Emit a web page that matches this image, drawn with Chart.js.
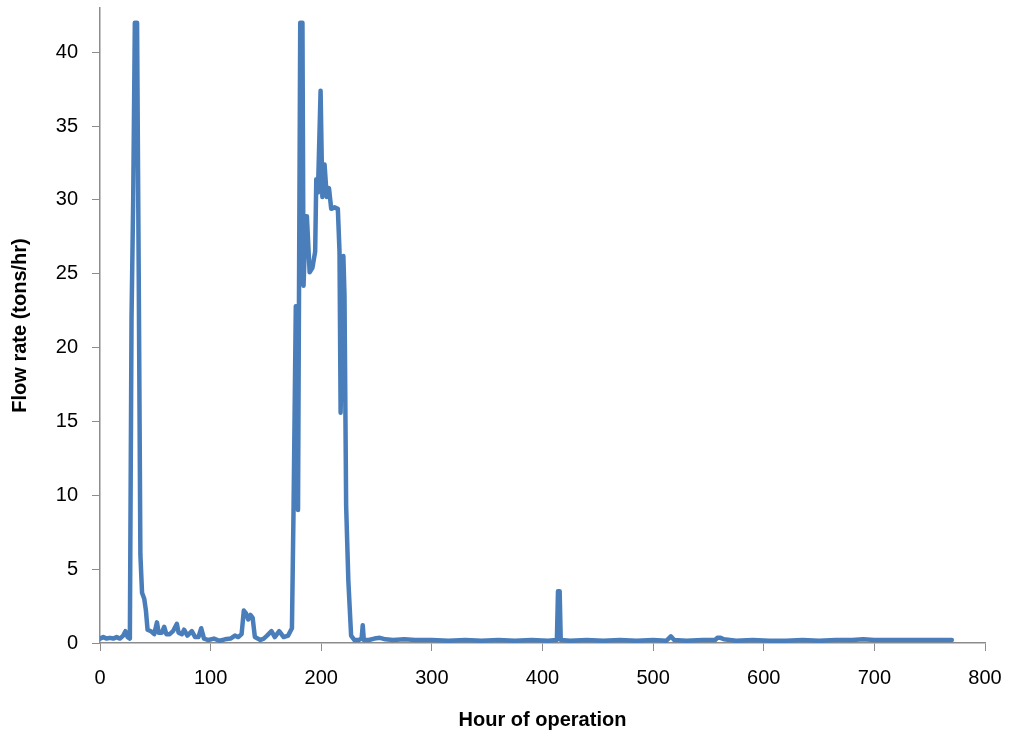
<!DOCTYPE html>
<html>
<head>
<meta charset="utf-8">
<script src="https://cdn.jsdelivr.net/npm/chart.js@4"></script>
<style>
  html, body { margin: 0; padding: 0; background: #fff; }
  #wrap { width: 1009px; height: 740px; }
</style>
</head>
<body>
<div id="wrap"><canvas id="flowChart" width="1009" height="740"></canvas></div>
<script>
// 数据
const hours = [
  0, 3, 6, 9, 12, 15, 18, 21, 23, 25, 27, 28.5, 30, 31.5, 33.5, 35, 36.5, 38, 40, 41.5,
  43, 46, 49, 51.5, 53, 56, 58, 60, 63, 66, 69.5, 71, 74, 76, 79, 83, 86, 89, 91.5, 94,
  98, 103, 108, 113, 118, 122, 125, 128, 130, 132, 134, 136, 138, 140, 145, 148, 151, 155, 158, 162,
  166, 170, 173.5, 175, 177, 178, 179, 181, 183, 184, 186, 187, 189.5, 192, 194.5, 195.5, 197, 199.4, 201, 203,
  205, 207, 209, 212, 215, 216.5, 217.5, 220, 221, 222.5, 224.5, 227, 230, 234, 236.5, 237.5, 238.5, 243, 248, 253,
  258, 265, 275, 285, 300, 315, 330, 345, 360, 375, 390, 405, 413, 414, 415.5, 416.5, 425, 440, 455, 470,
  485, 500, 512, 516, 519, 530, 545, 556, 558, 561, 564, 575, 590, 605, 620, 635, 650, 665, 680, 690,
  700, 715, 730, 745, 760, 770
];
const flowRate = [
  0.3, 0.4, 0.3, 0.35, 0.3, 0.4, 0.3, 0.5, 0.8, 0.4, 0.3, 22, 30, 42, 42, 25, 6, 3.4, 3.0, 2.2,
  0.9, 0.8, 0.6, 1.4, 0.7, 0.7, 1.1, 0.6, 0.6, 0.8, 1.3, 0.7, 0.6, 0.9, 0.5, 0.8, 0.4, 0.4, 1.0, 0.3,
  0.2, 0.3, 0.15, 0.25, 0.3, 0.5, 0.4, 0.6, 2.2, 2.0, 1.6, 1.9, 1.7, 0.4, 0.2, 0.3, 0.5, 0.8, 0.4, 0.8,
  0.4, 0.5, 1.0, 9.3, 22.8, 22.8, 9.0, 42, 42, 24.2, 28.9, 28.9, 25.1, 25.4, 26.5, 31.4, 30.5, 37.4, 30.2, 32.4,
  30.2, 30.8, 29.4, 29.5, 29.4, 26.5, 15.6, 26.2, 23.6, 9.3, 4.2, 0.5, 0.2, 0.2, 0.3, 1.2, 0.2, 0.2, 0.3, 0.35,
  0.25, 0.2, 0.25, 0.2, 0.2, 0.15, 0.2, 0.15, 0.2, 0.15, 0.2, 0.15, 0.2, 3.5, 3.5, 0.2, 0.15, 0.2, 0.15, 0.2,
  0.15, 0.2, 0.15, 0.45, 0.2, 0.15, 0.2, 0.2, 0.35, 0.35, 0.25, 0.15, 0.2, 0.15, 0.15, 0.2, 0.15, 0.2, 0.2, 0.25,
  0.2, 0.2, 0.2, 0.2, 0.2, 0.2
];
const xTicks = [0, 100, 200, 300, 400, 500, 600, 700, 800];
const yTicks = [0, 5, 10, 15, 20, 25, 30, 35, 40];

const axisColor = '#8c8c8c';
const tickFont = { family: 'Liberation Sans', size: 20 };
const titleFont = { family: 'Liberation Sans', size: 20, weight: 'bold' };

new Chart(document.getElementById('flowChart'), {
  type: 'line',
  data: {
    datasets: [{
      data: hours.map((h, i) => ({ x: h, y: flowRate[i] })),
      borderColor: '#4a7ebb',
      borderWidth: 4.5,
      pointRadius: 0,
      tension: 0,
      borderJoinStyle: 'round',
      borderCapStyle: 'round'
    }]
  },
  options: {
    responsive: false,
    animation: false,
    layout: { padding: { top: 8, right: 24, left: 0, bottom: 0 } },
    plugins: { legend: { display: false }, tooltip: { enabled: false } },
    scales: {
      x: {
        type: 'linear',
        min: 0,
        max: 800,
        afterBuildTicks: axis => { axis.ticks = xTicks.map(v => ({ value: v })); },
        afterFit: scale => { scale.height = 97; scale.paddingLeft = 0; scale.paddingRight = 0; },
        grid: { drawOnChartArea: false, drawTicks: true, tickLength: 8, color: axisColor },
        border: { color: axisColor, width: 1.5 },
        ticks: { color: '#000', font: tickFont, padding: 15, maxRotation: 0 },
        title: { display: true, text: 'Hour of operation', color: '#000', font: titleFont, padding: { top: 4, bottom: 8 } }
      },
      y: {
        min: 0,
        max: 43,
        afterBuildTicks: axis => { axis.ticks = yTicks.map(v => ({ value: v })); },
        afterFit: scale => { scale.width = 100; scale.paddingTop = 0; scale.paddingBottom = 0; },
        grid: { drawOnChartArea: false, drawTicks: true, tickLength: 8, color: axisColor },
        border: { color: axisColor, width: 1.5 },
        ticks: { color: '#000', font: tickFont, padding: 14 },
        title: { display: true, text: 'Flow rate (tons/hr)', color: '#000', font: titleFont, padding: { top: 8, bottom: 4 } }
      }
    }
  }
});
</script>
</body>
</html>
